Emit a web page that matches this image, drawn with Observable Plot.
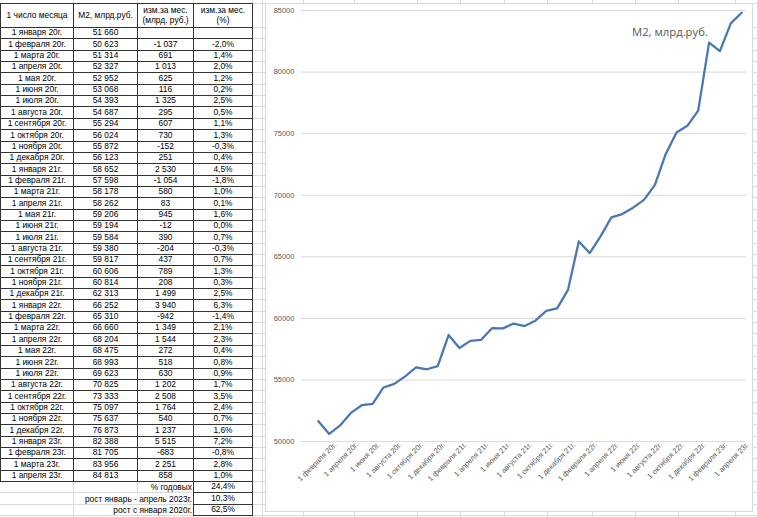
<!DOCTYPE html>
<html>
<head>
<meta charset="utf-8">
<script src="https://cdn.jsdelivr.net/npm/d3@7"></script>
<script src="https://cdn.jsdelivr.net/npm/@observablehq/plot@0.6"></script>
<style>
  html, body { margin: 0; padding: 0; background: #fff; }
  #page { position: relative; width: 758px; height: 517px; overflow: hidden; background: #fff;
          font-family: "Liberation Sans", Arial, sans-serif; }
  .bgh { position: absolute; left: 0; width: 758px; height: 0; border-top: 1px solid #dadada; }
  .bgv { position: absolute; top: 0; height: 517px; width: 0; border-left: 1px solid #dadada; }
  .cell { position: absolute; box-sizing: border-box; border: 1px solid #333; background: #fff;
          font-size: 8.4px; color: #000; display: flex; align-items: center; justify-content: center;
          text-align: center; line-height: 1.1; white-space: nowrap; }
  .sumlab { position: absolute; box-sizing: border-box; font-size: 8.4px; color: #000; text-align: right;
            display: flex; align-items: center; justify-content: flex-end; white-space: nowrap; }
  .sumlab span { background: #fff; padding-left: 2px; }
  #chartbox { position: absolute; left: 265px; top: 3px; width: 488px; height: 509px; box-sizing: border-box;
              border: 1px solid #d9d9d9; background: #fff; }
  #chart { position: absolute; left: -1px; top: -1px; }
  #title { position: absolute; left: 366px; top: 20px; font-family: "Open Sans", sans-serif; font-size: 11.3px;
           color: #595959; white-space: nowrap; }
</style>
</head>
<body>
<div id="page">
  <div id="chartbox"><div id="chart"></div><div id="title">M2, млрд.руб.</div></div>
</div>
<script>
// ---- data ----
const months = [
  "1 января 20г.","1 февраля 20г.","1 марта 20г.","1 апреля 20г.","1 мая 20г.","1 июня 20г.",
  "1 июля 20г.","1 августа 20г.","1 сентября 20г.","1 октября 20г.","1 ноября 20г.","1 декабря 20г.",
  "1 января 21г.","1 февраля 21г.","1 марта 21г.","1 апреля 21г.","1 мая 21г.","1 июня 21г.",
  "1 июля 21г.","1 августа 21г.","1 сентября 21г.","1 октября 21г.","1 ноября 21г.","1 декабря 21г.",
  "1 января 22г.","1 февраля 22г.","1 марта 22г.","1 апреля 22г.","1 мая 22г.","1 июня 22г.",
  "1 июля 22г.","1 августа 22г.","1 сентября 22г.","1 октября 22г.","1 ноября 22г.","1 декабря 22г.",
  "1 января 23г.","1 февраля 23г.","1 марта 23г.","1 апреля 23г."
];
const m2 = [
  51660, 50623, 51314, 52327, 52952, 53068, 54393, 54687, 55294, 56024, 55872, 56123,
  58652, 57598, 58178, 58262, 59206, 59194, 59584, 59380, 59817, 60606, 60814, 62313,
  66252, 65310, 66660, 68204, 68475, 68993, 69623, 70825, 73333, 75097, 75637, 76873,
  82388, 81705, 83956, 84813
];
const chg = [
  null, -1037, 691, 1013, 625, 116, 1325, 295, 607, 730, -152, 251,
  2530, -1054, 580, 83, 945, -12, 390, -204, 437, 789, 208, 1499,
  3940, -942, 1349, 1544, 272, 518, 630, 1202, 2508, 1764, 540, 1237,
  5515, -683, 2251, 858
];
const pct = [
  null, "-2,0%", "1,4%", "2,0%", "1,2%", "0,2%", "2,5%", "0,5%", "1,1%", "1,3%", "-0,3%", "0,4%",
  "4,5%", "-1,8%", "1,0%", "0,1%", "1,6%", "0,0%", "0,7%", "-0,3%", "0,7%", "1,3%", "0,3%", "2,5%",
  "6,3%", "-1,4%", "2,1%", "2,3%", "0,4%", "0,8%", "0,9%", "1,7%", "3,5%", "2,4%", "0,7%", "1,6%",
  "7,2%", "-0,8%", "2,8%", "1,0%"
];
const headers = ["1 число месяца", "M2, млрд.руб.", "изм.за мес.<br>(млрд. руб.)", "изм.за мес.<br>(%)"];
const summaryLabels = ["% годовых", "рост январь - апрель 2023г.", "рост с января 2020г."];
const summaryValues = ["24,4%", "10,3%", "62,5%"];
const yTicks = [50000, 55000, 60000, 65000, 70000, 75000, 80000, 85000];
const xTickIdx = d3.range(1, months.length, 2);

// ---- spreadsheet layout ----
const page = document.getElementById("page");
const colX = [0, 73, 137, 193, 252];
const headTop = 3, headBot = 27, rowH = 11.35;
const fmt = v => v == null ? "" : d3.format(",")(v).replace(/,/g, "\u00a0").replace("\u2212", "-");
const ry = k => Math.round(headBot + k * rowH);

// background gridlines
const bgRows = [headTop, headBot];
for (let k = 1; k < 45; k++) bgRows.push(ry(k));
bgRows.forEach(y => { const d = document.createElement("div"); d.className = "bgh"; d.style.top = y + "px"; page.insertBefore(d, page.firstChild); });
[73, 137, 193, 252, 262, 303, 354, 417, 460, 504, 547, 592, 635, 678, 735, 757].forEach(x => {
  const d = document.createElement("div"); d.className = "bgv"; d.style.left = x + "px"; page.insertBefore(d, page.firstChild);
});

function cell(x0, x1, y0, y1, html) {
  const d = document.createElement("div");
  d.className = "cell";
  d.style.left = x0 + "px"; d.style.top = y0 + "px";
  d.style.width = (x1 - x0 + 1) + "px"; d.style.height = (y1 - y0 + 1) + "px";
  d.innerHTML = html;
  page.appendChild(d);
}
headers.forEach((h, j) => cell(colX[j], colX[j + 1], headTop, headBot, h));
months.forEach((m, i) => {
  const y0 = ry(i), y1 = ry(i + 1);
  cell(colX[0], colX[1], y0, y1, m);
  cell(colX[1], colX[2], y0, y1, fmt(m2[i]));
  cell(colX[2], colX[3], y0, y1, fmt(chg[i]));
  cell(colX[3], colX[4], y0, y1, pct[i] ?? "");
});
summaryLabels.forEach((s, k) => {
  const y0 = ry(months.length + k), y1 = ry(months.length + k + 1);
  const d = document.createElement("div");
  d.className = "sumlab";
  d.style.left = colX[1] + "px"; d.style.width = (colX[3] - colX[1] - 1) + "px";
  d.style.top = (y0 + 1) + "px"; d.style.height = (y1 - y0 - 1) + "px";
  d.innerHTML = "<span>" + s + "</span>";
  page.appendChild(d);
  cell(colX[3], colX[4], y0, y1, summaryValues[k]);
});

// ---- chart ----
const idx = d3.range(m2.length);
const chart = Plot.plot({
  width: 488, height: 509,
  marginLeft: 36, marginRight: 6, marginTop: 7, marginBottom: 70,
  style: { fontFamily: "Liberation Sans, Arial, sans-serif", fontSize: "7.5px", color: "#595959", background: "transparent" },
  x: { domain: [-1.56, 39.45] },
  y: { domain: [50000, 85000] },
  marks: [
    Plot.ruleY(yTicks, { stroke: "#d9d9d9", strokeWidth: 1 }),
    Plot.axisY({ ticks: yTicks, tickSize: 0, tickPadding: 7, tickFormat: d => String(d), label: null }),
    Plot.axisX({ ticks: xTickIdx, tickFormat: i => months[i], tickRotate: -45, tickSize: 0, tickPadding: 6, dx: 6, dy: -4, label: null }),
    Plot.line(idx, { x: i => i, y: i => m2[i], stroke: "#4a78b0", strokeWidth: 2.3, strokeLinejoin: "round" })
  ]
});
document.getElementById("chart").appendChild(chart);
</script>
</body>
</html>
